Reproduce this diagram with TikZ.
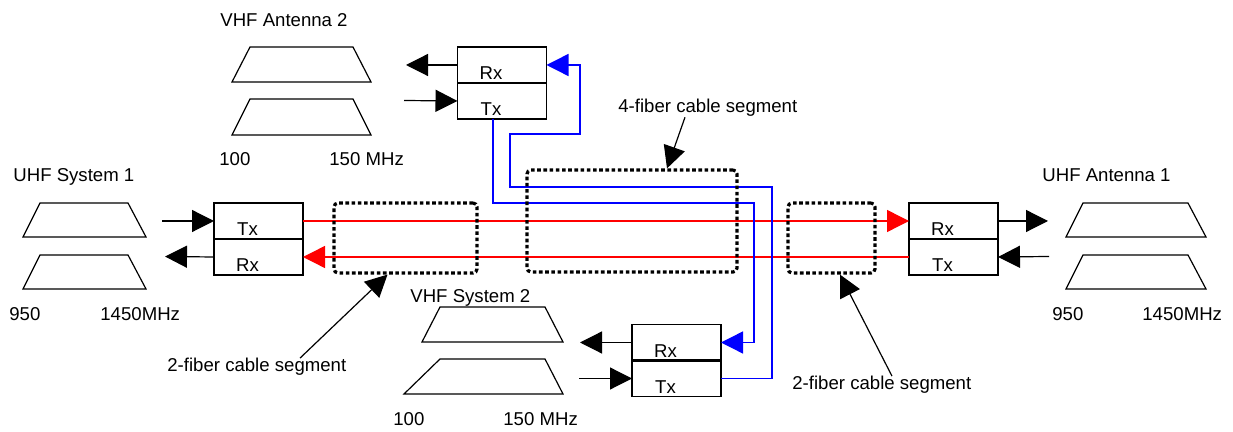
\documentclass[tikz,border=0pt]{standalone}
\usepackage{fontspec}
\setmainfont{Liberation Sans}
\usetikzlibrary{arrows.meta, positioning}
\definecolor{fibred}{RGB}{255, 0, 0}
\definecolor{fibblue}{RGB}{0, 0, 255}

\tikzset{
    half/.style={draw, line width=0.6pt, minimum width=44.5pt, minimum height=18pt, inner sep=0pt, outer sep=0pt},
    divider/.style={line width=1.3pt},
    txrx/.style={anchor=base, inner sep=0pt},
    lbl/.style={anchor=base west, inner sep=0pt},
    sig/.style={line width=0.6pt, -{Triangle[length=11pt, width=11pt]}},
    fiber/.style={line width=0.7pt, -{Triangle[length=11pt, width=11pt]}},
    seg/.style={draw, line width=1.6pt, dash pattern=on 1.8pt off 1.3pt, rounded corners=2pt, inner sep=0pt},
    band/.style={line width=0.6pt},
}

\begin{document}
\begin{tikzpicture}[x=0.5pt, y=-0.5pt, every node/.style={font=\fontsize{9.3}{11.2}\selectfont}]
    \useasboundingbox (0,0) rectangle (1233,432);

    % band shapes
    \draw[band] (232,82) -- (250,47) -- (353,47) -- (371,82) -- cycle;
    \draw[band] (232,135) -- (250,99) -- (353,99) -- (371,135) -- cycle;
    \draw[band] (23,237) -- (40,203) -- (128,203) -- (146,237) -- cycle;
    \draw[band] (23,289) -- (40,255) -- (128,255) -- (146,289) -- cycle;
    \draw[band] (1066,237) -- (1083,203) -- (1188,203) -- (1206,237) -- cycle;
    \draw[band] (1066,289) -- (1083,255) -- (1188,255) -- (1206,289) -- cycle;
    \draw[band] (422,342) -- (440,307) -- (545,307) -- (563,342) -- cycle;
    \draw[band] (404,394) -- (440,359) -- (545,359) -- (563,394) -- cycle;

    % titles and ranges
    \node[lbl] (a2name) at (220,27) {VHF Antenna 2};
    \node[lbl] (a2lo) at (219,166) {100};
    \node[lbl] (a2hi) at (329,166) {150 MHz};
    \node[lbl] (s1name) at (13,182) {UHF System 1};
    \node[lbl] (s1lo) at (9,321) {950};
    \node[lbl] (s1hi) at (100,321) {1450MHz};
    \node[lbl] (a1name) at (1042,182) {UHF Antenna 1};
    \node[lbl] (a1lo) at (1052,321) {950};
    \node[lbl] (a1hi) at (1142,321) {1450MHz};
    \node[lbl] (s2name) at (410,303) {VHF System 2};
    \node[lbl] (s2lo) at (393,426) {100};
    \node[lbl] (s2hi) at (503,426) {150 MHz};

    % transceivers
    \node[half] (a2rx) at (502,65) {};
    \node[half, below=0pt of a2rx] (a2tx) {};
    \node[half] (s1tx) at (258.5,221) {};
    \node[half, below=0pt of s1tx] (s1rx) {};
    \node[half] (a1rx) at (953.5,221) {};
    \node[half, below=0pt of a1rx] (a1tx) {};
    \node[half] (s2rx) at (676.5,342.5) {};
    \node[half, below=0pt of s2rx] (s2tx) {};

    \draw[divider] (a2rx.south west) -- (a2rx.south east);
    \draw[divider] (s1tx.south west) -- (s1tx.south east);
    \draw[divider] (a1rx.south west) -- (a1rx.south east);
    \draw[divider] (s2rx.south west) -- (s2rx.south east);

    \node[txrx] (a2rxl) at ([xshift=-5.5pt, yshift=1.5pt]a2rx.south) {Rx};
    \node[txrx] (a2txl) at ([xshift=-5.5pt, yshift=1.5pt]a2tx.south) {Tx};
    \node[txrx] (s1txl) at ([xshift=-5.5pt, yshift=1.5pt]s1tx.south) {Tx};
    \node[txrx] (s1rxl) at ([xshift=-5.5pt, yshift=1.5pt]s1rx.south) {Rx};
    \node[txrx] (a1rxl) at ([xshift=-5.5pt, yshift=1.5pt]a1rx.south) {Rx};
    \node[txrx] (a1txl) at ([xshift=-5.5pt, yshift=1.5pt]a1tx.south) {Tx};
    \node[txrx] (s2rxl) at ([xshift=-5.5pt, yshift=1.5pt]s2rx.south) {Rx};
    \node[txrx] (s2txl) at ([xshift=-5.5pt, yshift=1.5pt]s2tx.south) {Tx};

    % electrical in/out
    \coordinate (a2out) at (406,65);
    \coordinate (a2in) at (404,100.5);
    \coordinate (s1in) at (162,221);
    \coordinate (s1out) at (165,256.5);
    \coordinate (a1out) at (1048,221);
    \coordinate (a1in) at (1049,256.5);
    \coordinate (s2out) at (580,342.5);
    \coordinate (s2in) at (579,378.5);

    \draw[sig] (a2rx.west) -- (a2out);
    \draw[sig] (a2in) -- (a2tx.west);
    \draw[sig] (s1in) -- (s1tx.west);
    \draw[sig] (s1rx.west) -- (s1out);
    \draw[sig] (a1rx.east) -- (a1out);
    \draw[sig] (a1in) -- (a1tx.east);
    \draw[sig] (s2rx.west) -- (s2out);
    \draw[sig] (s2in) -- (s2tx.west);

    % fibers
    \draw[fiber, fibred] (s1tx.east) -- (a1rx.west);
    \draw[fiber, fibred] (a1tx.west) -- (s1rx.east);
    \draw[fiber, fibblue] ([xshift=-4.5pt]a2tx.south) |- (754,203) |- (s2rx.east);
    \draw[fiber, fibblue] (s2tx.east) -| (772,187) -| (510,134) -| (580,65) -- (a2rx.east);

    % cable segments
    \node[seg, minimum width=71.5pt, minimum height=35pt] (seg1) at (405.5,238) {};
    \node[seg, minimum width=105pt, minimum height=51pt] (seg4) at (632,221) {};
    \node[seg, minimum width=43.5pt, minimum height=35pt] (seg2) at (831.5,238) {};

    \node[lbl] (seg1txt) at (167,372) {2-fiber cable segment};
    \node[lbl] (seg4txt) at (618,113) {4-fiber cable segment};
    \node[lbl] (seg2txt) at (792,390) {2-fiber cable segment};

    \draw[sig] ([xshift=66.5pt]seg1txt.north west) -- ([xshift=-9pt]seg1.south);
    \draw[sig] ([xshift=33.5pt]seg4txt.south west) -- ([xshift=17.5pt]seg4.north);
    \draw[sig] ([xshift=50pt]seg2txt.north west) -- ([xshift=4.25pt]seg2.south);
\end{tikzpicture}
\end{document}
